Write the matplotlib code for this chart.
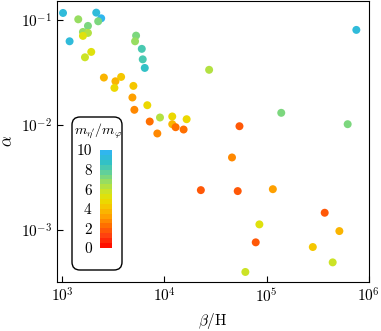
import numpy as np
import matplotlib
matplotlib.use("Agg")
import matplotlib.pyplot as plt
from matplotlib.colors import LinearSegmentedColormap
from matplotlib.patches import FancyBboxPatch

plt.rcParams['font.family'] = 'serif'
plt.rcParams['font.serif'] = ['cmr10', 'DejaVu Serif']
plt.rcParams['mathtext.fontset'] = 'cm'
plt.rcParams['axes.formatter.use_mathtext'] = True
plt.rcParams['axes.unicode_minus'] = False

# beta/H, alpha, m_eta'/m_phi
beta_H = [1016, 1178, 1432, 1592, 1782, 1782, 1592, 1666, 1919, 2148,
          2401, 2244, 2552, 3311, 3236, 3764, 5272, 5152, 5995, 6124,
          6412, 4963, 4853, 5073, 6790, 7171, 8511, 9036, 11912, 11912,
          12856, 15387, 16474, 755000, 27350, 139000, 54200, 45800, 621000, 22700,
          52100, 115000, 370000, 84900, 515000, 78200, 283000, 443000, 61900]
alpha = [0.1157, 0.0623, 0.1007, 0.0764, 0.0872, 0.0748, 0.0701, 0.0439, 0.0494, 0.1165,
         0.1029, 0.0964, 0.0282, 0.0260, 0.0225, 0.0286, 0.0705, 0.0623, 0.0528, 0.0420,
         0.0348, 0.0235, 0.01824, 0.01394, 0.01541, 0.01079, 0.00831, 0.01178, 0.01205, 0.01018,
         0.00953, 0.00906, 0.01135, 0.0799, 0.0334, 0.01305, 0.00974, 0.00492, 0.01018, 0.00241,
         0.00236, 0.00246, 0.00147, 0.00114, 0.000985, 0.000770, 0.000695, 0.000497, 0.000403]
mass_ratio = [9.2, 9.0, 6.5, 6.8, 7.0, 6.3, 5.2, 5.8, 5.0, 9.2,
              9.6, 7.2, 3.8, 3.6, 4.6, 4.2, 7.4, 6.8, 8.3, 8.0,
              8.5, 4.0, 3.0, 2.6, 4.8, 2.0, 2.6, 6.0, 4.6, 3.8,
              2.0, 2.3, 4.8, 9.0, 6.0, 7.3, 1.8, 2.6, 7.2, 1.8,
              1.9, 3.0, 1.8, 5.2, 3.6, 1.8, 4.0, 5.6, 5.6]

cmap = LinearSegmentedColormap.from_list('ratio', [
    '#ff1000', '#ff4010', '#ff6a00', '#ff9a00', '#f8c000', '#e8e000',
    '#c4e430', '#8edc6a', '#5ccfa0', '#30c0c8', '#30b6ee'], N=20)

fig = plt.figure(figsize=(3.81, 3.31), dpi=100)
ax = fig.add_axes([0.15, 0.148, 0.818, 0.85])
ax.set_zorder(0)
sc = ax.scatter(beta_H, alpha, c=mass_ratio, cmap=cmap, vmin=0, vmax=10,
                s=33, edgecolors='none', zorder=3)
ax.set_xscale('log')
ax.set_yscale('log')
ax.set_xlim(890, 1e6)
ax.set_ylim(10**-3.49, 10**-0.82)
ax.tick_params(which='major', direction='in', length=4, labelsize=11)
ax.tick_params(which='minor', length=0)
ax.set_xlabel(r'$\beta/\mathrm{H}$', fontsize=11)
ax.set_ylabel(r'$\alpha$', fontsize=12)

# rounded legend box behind the colorbar
box = FancyBboxPatch((0.72, 0.61), 0.50, 1.53, boxstyle='round,pad=0,rounding_size=0.08',
                     transform=fig.dpi_scale_trans, facecolor='white',
                     edgecolor='black', linewidth=1.0, zorder=1)
fig.patches.append(box)

cax = fig.add_axes([0.2625, 0.2508, 0.0315, 0.296])
cax.set_zorder(2)
cb = fig.colorbar(sc, cax=cax, ticks=[0, 2, 4, 6, 8, 10])
cb.outline.set_visible(False)
cax.yaxis.set_ticks_position('left')
cax.tick_params(length=0, labelsize=11, pad=6)
cax.set_yticklabels(['0', '2', '4', '6', '8', '10'])
fig.text(0.258, 0.605, r"$m_{\eta'}/m_{\varphi}$", ha='center', va='center',
         fontsize=10, zorder=3)

fig.savefig('out.png', dpi=100)
